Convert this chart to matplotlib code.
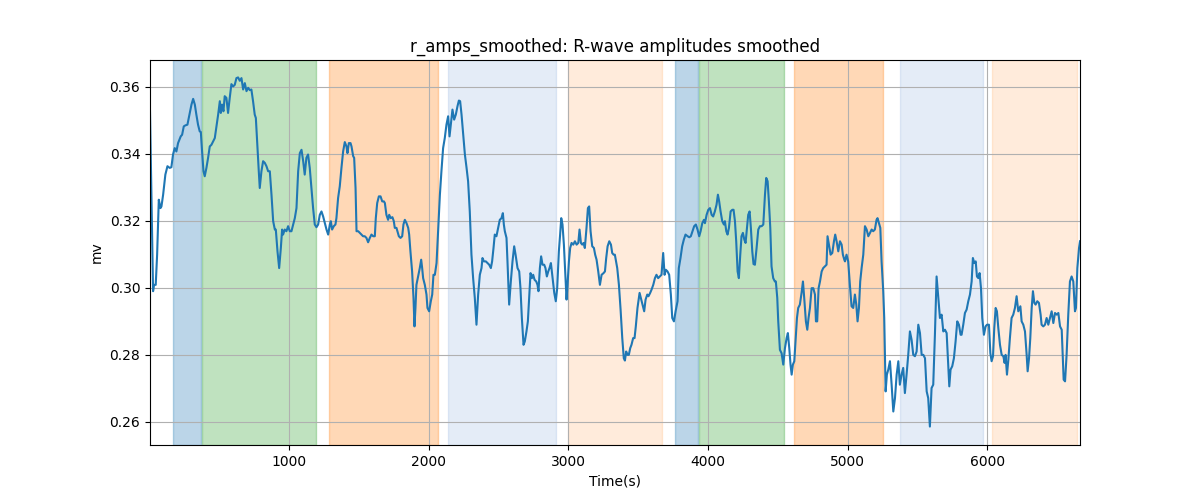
import matplotlib
matplotlib.use("Agg")
import matplotlib.pyplot as plt
import numpy as np

time_s = [4, 26, 33, 45, 55, 67, 79, 86, 98, 114, 129, 145, 157, 169, 181, 193, 205, 224, 234, 246, 258, 272, 284, 301, 313, 325, 336, 348, 360, 368, 377, 387, 396, 408, 420, 432, 444, 456, 468, 480, 492, 504, 511, 520, 530, 539, 551, 563, 575, 587, 599, 611, 623, 635, 647, 659, 671, 683, 695, 707, 719, 730, 742, 754, 762, 771, 783, 790, 802, 814, 826, 838, 850, 862, 874, 886, 898, 905, 917, 929, 941, 950, 957, 969, 981, 993, 1005, 1017, 1029, 1041, 1053, 1065, 1077, 1089, 1101, 1112, 1124, 1136, 1148, 1160, 1172, 1184, 1196, 1208, 1220, 1232, 1244, 1256, 1268, 1280, 1292, 1299, 1308, 1320, 1332, 1339, 1351, 1363, 1375, 1387, 1399, 1411, 1418, 1428, 1440, 1447, 1459, 1466, 1476, 1483, 1495, 1507, 1519, 1530, 1542, 1554, 1566, 1578, 1590, 1602, 1614, 1621, 1631, 1643, 1655, 1667, 1679, 1686,
          1697, 1709, 1717, 1728, 1740, 1750, 1757, 1769, 1776, 1786, 1798, 1810, 1819, 1829, 1841, 1853, 1860, 1869, 1881, 1891, 1898, 1905, 1912, 1924, 1936, 1946, 1953, 1960, 1972, 1984, 1991, 2003, 2015, 2025, 2034, 2044, 2056, 2068, 2080, 2091, 2103, 2115, 2127, 2139, 2149, 2158, 2170, 2182, 2194, 2206, 2216, 2225, 2235, 2247, 2259, 2271, 2282, 2294, 2306, 2318, 2330, 2342, 2354, 2366, 2378, 2385, 2395, 2409, 2421, 2433, 2445, 2454, 2464, 2473, 2485, 2497, 2509, 2521, 2531, 2538, 2545, 2557, 2564, 2576, 2588, 2600, 2612, 2622, 2636, 2648, 2657, 2667, 2679, 2688, 2700, 2710, 2719, 2729, 2739, 2748, 2758, 2770, 2779, 2786, 2796, 2805, 2815, 2827, 2836, 2846, 2856, 2865, 2875, 2887, 2899, 2910, 2920, 2932, 2941, 2949, 2958, 2968, 2977, 2987, 2994, 3004, 3013, 3023, 3035, 3047, 3059, 3071, 3080, 3090, 3099, 3109, 3118, 3130, 3140, 3149, 3159, 3171, 3183, 3192, 3202, 3214, 3226, 3238, 3252, 3262, 3271, 3281, 3293, 3305, 3314, 3324, 3333,
          3350, 3362, 3374, 3386, 3397, 3405, 3414, 3424, 3433, 3443, 3452, 3464, 3474, 3483, 3495, 3510, 3519, 3531, 3543, 3553, 3565, 3574, 3586, 3596, 3608, 3620, 3631, 3643, 3655, 3667, 3679, 3689, 3698, 3710, 3722, 3734, 3744, 3756, 3768, 3782, 3791, 3803, 3815, 3827, 3839, 3854, 3866, 3877, 3889, 3901, 3913, 3925, 3937, 3947, 3959, 3971, 3978, 3990, 4002, 4014, 4026, 4037, 4049, 4061, 4071, 4080, 4090, 4102, 4114, 4121, 4131, 4140, 4150, 4162, 4174, 4183, 4193, 4202, 4212, 4221, 4231, 4240, 4250, 4260, 4269, 4279, 4288, 4298, 4307, 4317, 4326, 4336, 4348, 4360, 4372, 4384, 4396, 4408, 4417, 4427, 4436, 4446, 4455, 4467, 4479, 4486, 4496, 4503, 4515, 4527, 4539, 4551, 4563, 4572, 4582, 4591, 4599, 4608, 4618, 4627, 4637, 4646, 4658, 4670, 4680, 4689, 4701, 4711, 4720, 4730, 4742, 4754, 4766, 4773, 4782, 4792, 4802, 4814, 4825, 4837, 4849, 4856, 4866, 4878, 4890, 4902, 4911, 4921, 4933, 4945, 4957, 4966, 4976, 4981,
          4992, 5004, 5016, 5028, 5040, 5052, 5062, 5071, 5081, 5090, 5100, 5112, 5124, 5136, 5148, 5160, 5172, 5183, 5195, 5207, 5214, 5224, 5234, 5243, 5255, 5262, 5267, 5272, 5281, 5291, 5303, 5315, 5327, 5339, 5351, 5363, 5374, 5386, 5398, 5410, 5422, 5434, 5446, 5458, 5470, 5482, 5494, 5506, 5518, 5530, 5542, 5554, 5566, 5577, 5589, 5601, 5613, 5625, 5637, 5649, 5661, 5673, 5685, 5697, 5709, 5721, 5728, 5737, 5749, 5761, 5773, 5785, 5797, 5809, 5816, 5828, 5840, 5852, 5864, 5876, 5888, 5897, 5907, 5917, 5926, 5936, 5945, 5955, 5964, 5976, 5988, 5998, 6012, 6022, 6031, 6041, 6050, 6060, 6069, 6079, 6091, 6103, 6115, 6124, 6131, 6141, 6151, 6162, 6174, 6186, 6198, 6210, 6222, 6237, 6246, 6258, 6270, 6282, 6289, 6299, 6308, 6318, 6327, 6337, 6346, 6358, 6370, 6382, 6389, 6401, 6413, 6425, 6437, 6449, 6461, 6473, 6485, 6497, 6509, 6521, 6533, 6540, 6547, 6557, 6568, 6580, 6592, 6604, 6616, 6628, 6635, 6645, 6657, 6664]

r_amps_smoothed = [0.3527, 0.2990, 0.3009, 0.3009, 0.3099, 0.3263, 0.3238, 0.3243, 0.3278, 0.3338, 0.3363, 0.3358, 0.3360, 0.3398, 0.3417, 0.3407, 0.3432, 0.3452, 0.3457, 0.3482, 0.3485, 0.3487, 0.3512, 0.3547, 0.3564, 0.3547, 0.3517, 0.3487, 0.3467, 0.3465, 0.3407, 0.3348, 0.3333, 0.3358, 0.3388, 0.3422, 0.3427, 0.3437, 0.3447, 0.3482, 0.3517, 0.3557, 0.3522, 0.3547, 0.3527, 0.3572, 0.3567, 0.3522, 0.3567, 0.3608, 0.3601, 0.3606, 0.3626, 0.3628, 0.3618, 0.3626, 0.3592, 0.3611, 0.3587, 0.3597, 0.3590, 0.3592, 0.3557, 0.3517, 0.3507, 0.3437, 0.3348, 0.3298, 0.3348, 0.3378, 0.3373, 0.3363, 0.3348, 0.3348, 0.3278, 0.3199, 0.3174, 0.3174, 0.3109, 0.3059, 0.3119, 0.3174, 0.3159, 0.3174, 0.3169, 0.3184, 0.3169, 0.3169, 0.3189, 0.3208, 0.3238, 0.3348, 0.3402, 0.3412, 0.3378, 0.3338, 0.3388, 0.3398, 0.3358, 0.3298, 0.3238, 0.3189, 0.3181, 0.3189, 0.3218, 0.3228, 0.3213, 0.3193, 0.3174, 0.3159, 0.3189, 0.3199, 0.3174, 0.3184, 0.3189, 0.3208, 0.3268, 0.3303, 0.3358, 0.3407, 0.3435, 0.3422, 0.3402, 0.3432, 0.3432, 0.3422, 0.3393, 0.3388, 0.3298, 0.3169, 0.3169, 0.3164, 0.3159, 0.3154, 0.3154, 0.3149, 0.3136, 0.3149, 0.3159, 0.3154, 0.3154, 0.3208, 0.3253, 0.3273, 0.3273, 0.3258, 0.3258, 0.3253,
                   0.3218, 0.3203, 0.3218, 0.3208, 0.3211, 0.3199, 0.3179, 0.3179, 0.3169, 0.3154, 0.3149, 0.3154, 0.3189, 0.3203, 0.3193, 0.3179, 0.3159, 0.3109, 0.3049, 0.2970, 0.2885, 0.2940, 0.3009, 0.3034, 0.3059, 0.3084, 0.3059, 0.3029, 0.3009, 0.2980, 0.2940, 0.2930, 0.2960, 0.2980, 0.3039, 0.3039, 0.3074, 0.3179, 0.3278, 0.3348, 0.3417, 0.3447, 0.3487, 0.3512, 0.3452, 0.3487, 0.3532, 0.3502, 0.3517, 0.3542, 0.3559, 0.3557, 0.3517, 0.3457, 0.3398, 0.3358, 0.3318, 0.3228, 0.3099, 0.3029, 0.2970, 0.2890, 0.2980, 0.3039, 0.3059, 0.3089, 0.3079, 0.3079, 0.3074, 0.3069, 0.3059, 0.3079, 0.3119, 0.3159, 0.3154, 0.3179, 0.3203, 0.3208, 0.3223, 0.3189, 0.3169, 0.3149, 0.3079, 0.2950, 0.3019, 0.3079, 0.3124, 0.3099, 0.3059, 0.3049, 0.2999, 0.2910, 0.2830, 0.2840, 0.2870, 0.2900, 0.2970, 0.3044, 0.3029, 0.3039, 0.3024, 0.3019, 0.3009, 0.2990, 0.3059, 0.3094, 0.3069, 0.3069, 0.3059, 0.3034, 0.3049, 0.3059, 0.3074, 0.3029, 0.2985, 0.2960, 0.2999, 0.3109, 0.3159, 0.3208, 0.3189, 0.3129, 0.3049, 0.2965, 0.3009, 0.3079, 0.3119, 0.3134, 0.3129, 0.3139, 0.3129, 0.3134, 0.3174, 0.3134, 0.3129, 0.3134, 0.3119, 0.3179, 0.3238, 0.3243, 0.3169, 0.3124, 0.3119, 0.3099, 0.3084, 0.3049, 0.3009, 0.3039, 0.3044, 0.3049, 0.3089, 0.3124, 0.3139, 0.3129, 0.3104, 0.3099, 0.3099,
                   0.3059, 0.3009, 0.2935, 0.2850, 0.2790, 0.2783, 0.2810, 0.2800, 0.2800, 0.2820, 0.2830, 0.2850, 0.2850, 0.2885, 0.2940, 0.2985, 0.2970, 0.2950, 0.2930, 0.2965, 0.2980, 0.2975, 0.2985, 0.2995, 0.3009, 0.3029, 0.3039, 0.3029, 0.3034, 0.3039, 0.3104, 0.3039, 0.3054, 0.3049, 0.3039, 0.2980, 0.2910, 0.2900, 0.2930, 0.2960, 0.3059, 0.3089, 0.3124, 0.3144, 0.3159, 0.3154, 0.3151, 0.3154, 0.3169, 0.3184, 0.3189, 0.3174, 0.3154, 0.3169, 0.3193, 0.3203, 0.3193, 0.3218, 0.3233, 0.3238, 0.3218, 0.3213, 0.3228, 0.3248, 0.3278, 0.3258, 0.3228, 0.3199, 0.3189, 0.3199, 0.3169, 0.3159, 0.3179, 0.3228, 0.3233, 0.3233, 0.3199, 0.3139, 0.3049, 0.3029, 0.3099, 0.3154, 0.3164, 0.3144, 0.3134, 0.3179, 0.3218, 0.3228, 0.3179, 0.3109, 0.3071, 0.3069, 0.3119, 0.3174, 0.3184, 0.3184, 0.3189, 0.3278, 0.3328, 0.3318, 0.3258, 0.3179, 0.3064, 0.3029, 0.3019, 0.3019, 0.2970, 0.2900, 0.2815, 0.2805, 0.2771, 0.2820, 0.2850, 0.2865, 0.2820, 0.2771, 0.2741, 0.2771, 0.2781, 0.2840, 0.2910, 0.2940, 0.2950, 0.2985, 0.3019, 0.2970, 0.2900, 0.2875, 0.2910, 0.2940, 0.2999, 0.2999, 0.2980, 0.2900, 0.2900, 0.2999, 0.3019, 0.3049, 0.3059, 0.3064, 0.3069, 0.3154, 0.3129, 0.3099, 0.3104, 0.3139, 0.3159, 0.3139, 0.3109, 0.3139, 0.3129, 0.3099, 0.3084, 0.3079,
                   0.3099, 0.3079, 0.3009, 0.2945, 0.2940, 0.2980, 0.2950, 0.2900, 0.2940, 0.3019, 0.3059, 0.3099, 0.3184, 0.3174, 0.3154, 0.3164, 0.3174, 0.3169, 0.3174, 0.3203, 0.3208, 0.3193, 0.3179, 0.3079, 0.2990, 0.2910, 0.2800, 0.2691, 0.2741, 0.2756, 0.2781, 0.2711, 0.2631, 0.2671, 0.2741, 0.2781, 0.2711, 0.2741, 0.2761, 0.2686, 0.2741, 0.2800, 0.2870, 0.2845, 0.2800, 0.2796, 0.2810, 0.2890, 0.2865, 0.2800, 0.2800, 0.2790, 0.2691, 0.2671, 0.2586, 0.2701, 0.2711, 0.2860, 0.3034, 0.2970, 0.2910, 0.2920, 0.2870, 0.2875, 0.2865, 0.2761, 0.2706, 0.2756, 0.2766, 0.2790, 0.2840, 0.2900, 0.2890, 0.2860, 0.2860, 0.2890, 0.2925, 0.2935, 0.2960, 0.2980, 0.3019, 0.3089, 0.3074, 0.3079, 0.3034, 0.3029, 0.3044, 0.2999, 0.2910, 0.2860, 0.2885, 0.2890, 0.2890, 0.2805, 0.2781, 0.2796, 0.2880, 0.2940, 0.2930, 0.2880, 0.2830, 0.2800, 0.2796, 0.2776, 0.2800, 0.2741, 0.2786, 0.2850, 0.2910, 0.2920, 0.2940, 0.2975, 0.2930, 0.2945, 0.2900, 0.2890, 0.2870, 0.2800, 0.2751, 0.2790, 0.2850, 0.2940, 0.2990, 0.2955, 0.2950, 0.2960, 0.2955, 0.2920, 0.2890, 0.2885, 0.2890, 0.2910, 0.2890, 0.2910, 0.2930, 0.2895, 0.2925, 0.2920, 0.2925, 0.2885, 0.2875, 0.2800, 0.2726, 0.2721, 0.2800, 0.2920, 0.3019, 0.3034, 0.3019, 0.2930, 0.2940, 0.3059, 0.3119, 0.3139]

# shaded intervals (start s, end s, colour, alpha)
span_starts = [169, 377, 1284, 2137, 2999, 3763, 3937, 4615, 5374, 6031]
span_ends = [372, 1196, 2063, 2915, 3667, 3930, 4543, 5250, 5967, 6640]
span_colors = ["tab:blue", "tab:green", "tab:orange", "#4b80ca", "tab:orange",
               "tab:blue", "tab:green", "tab:orange", "#4b80ca", "tab:orange"]
span_alphas = [0.3, 0.3, 0.3, 0.15, 0.15, 0.3, 0.3, 0.3, 0.15, 0.15]

fig, ax = plt.subplots(figsize=(12, 5), dpi=100)
for s, e, c, a in zip(span_starts, span_ends, span_colors, span_alphas):
    ax.axvspan(s, e, color=c, alpha=a)
ax.plot(time_s, r_amps_smoothed, color="tab:blue")
ax.set_xlim(time_s[0], time_s[-1])
ax.set_ylim(0.2531, 0.3680)
ax.grid(True)
ax.set_title("r_amps_smoothed: R-wave amplitudes smoothed")
ax.set_xlabel("Time(s)")
ax.set_ylabel("mv")
fig.savefig("out.png")
